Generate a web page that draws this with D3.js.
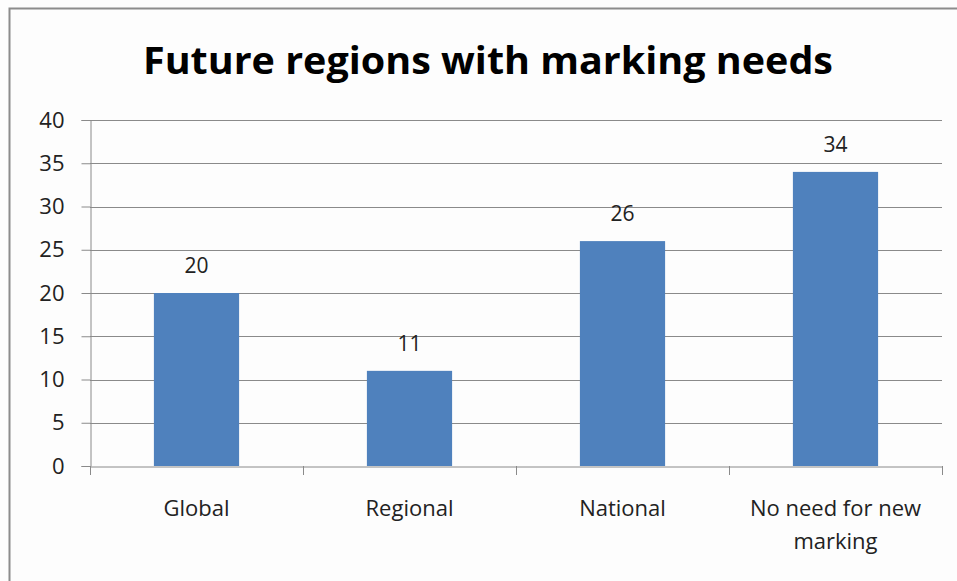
<!DOCTYPE html>
<html><head><meta charset="utf-8">
<script src="https://cdn.jsdelivr.net/npm/d3@7"></script>
<style>body{margin:0;background:#fff}svg{display:block}</style>
</head><body>
<script>
const categories = ["Global", "Regional", "National", "No need for new marking"];
const values = [20, 11, 26, 34];
const yTicks = [0, 5, 10, 15, 20, 25, 30, 35, 40];
const title = "Future regions with marking needs";

const W = 957, H = 581;
const svg = d3.select("body").append("svg").attr("width", W).attr("height", H);
svg.append("rect").attr("width", W).attr("height", H).attr("fill", "#fdfdfd");
// outer chart border
svg.append("path").attr("d", `M9.5,${H+5} V8.5 H${W+5}`).attr("fill", "none").attr("stroke", "#8c8c8c").attr("stroke-width", 2);

const m = {left: 90, right: 942, top: 120, bottom: 466};
const x = d3.scaleBand().domain(categories).range([m.left, m.right]).paddingInner(0.6).paddingOuter(0.3);
const xOuter = d3.scaleBand().domain(categories).range([m.left, m.right]);
const y = d3.scaleLinear().domain([0, 40]).range([m.bottom, m.top]);

const font = "'Open Sans', 'Liberation Sans', sans-serif";

// gridlines
svg.append("g").selectAll("line").data(yTicks.filter(d => d > 0)).join("line")
  .attr("x1", m.left).attr("x2", m.right)
  .attr("y1", d => Math.round(y(d)) + 0.5).attr("y2", d => Math.round(y(d)) + 0.5)
  .attr("stroke", "#8a8a8a").attr("stroke-width", 1);

// y axis
const yAxis = svg.append("g").attr("transform", `translate(${m.left + 0.5},0)`)
  .call(d3.axisLeft(y).tickValues(yTicks).tickSize(9).tickPadding(17));
yAxis.select(".domain").attr("stroke", "#8a8a8a");
yAxis.selectAll(".tick line").attr("stroke", "#8a8a8a");
yAxis.selectAll("text").attr("font-family", font).attr("font-size", 22).attr("fill", "#222");

// x axis
const xAxis = svg.append("g").attr("transform", `translate(0,${Math.round(y(0)) + 0.5})`)
  .call(d3.axisBottom(xOuter).tickSize(0).tickFormat(""));
xAxis.select(".domain").attr("stroke", "#8a8a8a");
// category boundary ticks
const bounds = categories.map(c => xOuter(c)).concat([m.right]);
svg.append("g").selectAll("line").data(bounds).join("line")
  .attr("x1", d => Math.round(d) + 0.5).attr("x2", d => Math.round(d) + 0.5)
  .attr("y1", Math.round(y(0))).attr("y2", Math.round(y(0)) + 9)
  .attr("stroke", "#8a8a8a");

// bars
svg.append("g").selectAll("rect").data(values).join("rect")
  .attr("x", (d, i) => x(categories[i])).attr("width", x.bandwidth())
  .attr("y", d => y(d)).attr("height", d => y(0) - y(d))
  .attr("fill", "#4f81bd");

// data labels
svg.append("g").selectAll("text").data(values).join("text")
  .attr("x", (d, i) => x(categories[i]) + x.bandwidth() / 2)
  .attr("y", d => y(d) - 20)
  .attr("text-anchor", "middle").attr("font-family", font).attr("font-size", 21).attr("fill", "#222")
  .text(d => d);

// category labels (wrapped)
const wrapLines = {"No need for new marking": ["No need for new", "marking"]};
svg.append("g").selectAll("text").data(categories).join("text")
  .attr("text-anchor", "middle").attr("font-family", font).attr("font-size", 22).attr("fill", "#222")
  .attr("x", d => xOuter(d) + xOuter.bandwidth() / 2)
  .attr("y", 516)
  .each(function(d) {
    const lines = wrapLines[d] || [d];
    d3.select(this).selectAll("tspan").data(lines).join("tspan")
      .attr("x", xOuter(d) + xOuter.bandwidth() / 2)
      .attr("dy", (l, i) => i === 0 ? 0 : 33)
      .text(l => l);
  });

// title
svg.append("text").attr("x", 488).attr("y", 74).attr("text-anchor", "middle")
  .attr("font-family", font).attr("font-weight", "bold").attr("font-size", 38).attr("fill", "#000")
  .attr("textLength", 690).attr("lengthAdjust", "spacingAndGlyphs")
  .text(title);
</script>
</body></html>
